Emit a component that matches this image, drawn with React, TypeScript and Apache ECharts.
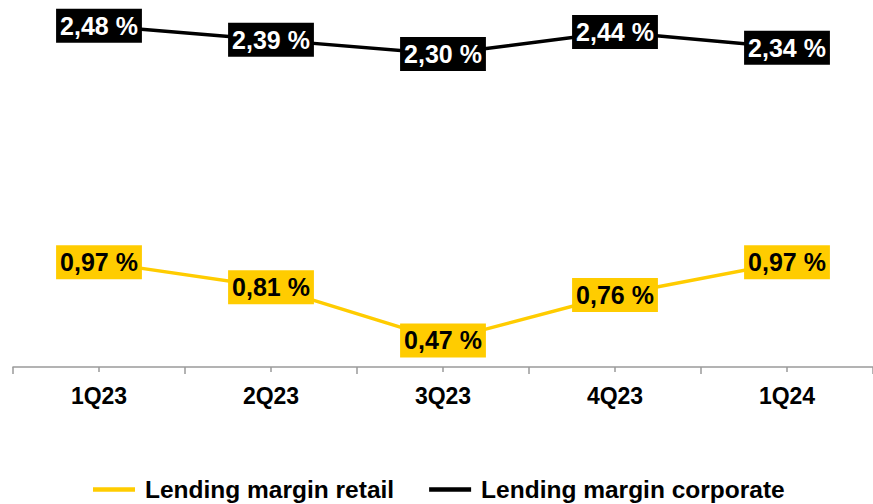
import React, { useEffect, useRef } from "react";
import * as echarts from "echarts";

const categories = ["1Q23", "2Q23", "3Q23", "4Q23", "1Q24"];
const retail = [0.97, 0.81, 0.47, 0.76, 0.97];
const corporate = [2.48, 2.39, 2.3, 2.44, 2.34];
const seriesNames = ["Lending margin retail", "Lending margin corporate"];

const YELLOW = "#FFCC00";
const FONT = "'Liberation Sans', Arial, sans-serif";

export default function App() {
  const ref = useRef<HTMLDivElement>(null);
  useEffect(() => {
    if (!ref.current) return;
    const chart = echarts.init(ref.current, null, { renderer: "svg" });
    const fmt = (p: any) => p.value.toFixed(2).replace(".", ",") + " %";
    chart.setOption({
      animation: false,
      backgroundColor: "#fff",
      grid: { left: 13, right: 0, top: 7, height: 360, containLabel: false },
      legend: {
        data: seriesNames.map((n) => ({ name: n, icon: "rect" })),
        left: 88,
        top: 472,
        itemWidth: 42,
        itemHeight: 4.5,
        itemGap: 35,
        textStyle: {
          fontFamily: FONT,
          fontWeight: "bold",
          fontSize: 24.5,
          lineHeight: 24,
          color: "#000",
          padding: [0, 0, 0, 5],
        },
      },
      xAxis: [
        {
          type: "category",
          data: categories,
          position: "bottom",
          axisLine: { lineStyle: { color: "#9a9a9a", width: 1.5 } },
          axisTick: { show: true, length: 7, lineStyle: { color: "#9a9a9a", width: 1.5 } },
          axisLabel: { fontFamily: FONT, fontWeight: "bold", fontSize: 23, color: "#000", margin: 17 },
        },
        {
          type: "category",
          data: categories,
          position: "bottom",
          axisLine: { show: false },
          axisTick: { show: true, alignWithLabel: true, length: 5, lineStyle: { color: "#9a9a9a", width: 1.5 } },
          axisLabel: { show: false },
        },
      ],
      yAxis: {
        type: "value",
        min: 0.3,
        max: 2.6,
        show: false,
        splitLine: { show: false },
      },
      series: [
        {
          name: seriesNames[0],
          type: "line",
          data: retail,
          color: YELLOW,
          lineStyle: { color: YELLOW, width: 3.5 },
          symbol: "circle",
          symbolSize: 0.1,
          showSymbol: true,
          label: {
            show: true,
            position: "inside",
            formatter: fmt,
            backgroundColor: YELLOW,
            color: "#000",
            fontFamily: FONT,
            fontWeight: "bold",
            fontSize: 25,
            lineHeight: 25,
            padding: [5, 4, 4, 4],
          },
        },
        {
          name: seriesNames[1],
          type: "line",
          data: corporate,
          color: "#000",
          lineStyle: { color: "#000", width: 3.5 },
          symbol: "circle",
          symbolSize: 0.1,
          showSymbol: true,
          label: {
            show: true,
            position: "inside",
            formatter: fmt,
            backgroundColor: "#000",
            color: "#fff",
            fontFamily: FONT,
            fontWeight: "bold",
            fontSize: 25,
            lineHeight: 25,
            padding: [5, 4, 4, 4],
          },
        },
      ],
    });
    return () => chart.dispose();
  }, []);
  return (
    <div
      ref={ref}
      style={{ position: "fixed", left: 0, top: 0, width: 873, height: 504, background: "#fff" }}
    />
  );
}
